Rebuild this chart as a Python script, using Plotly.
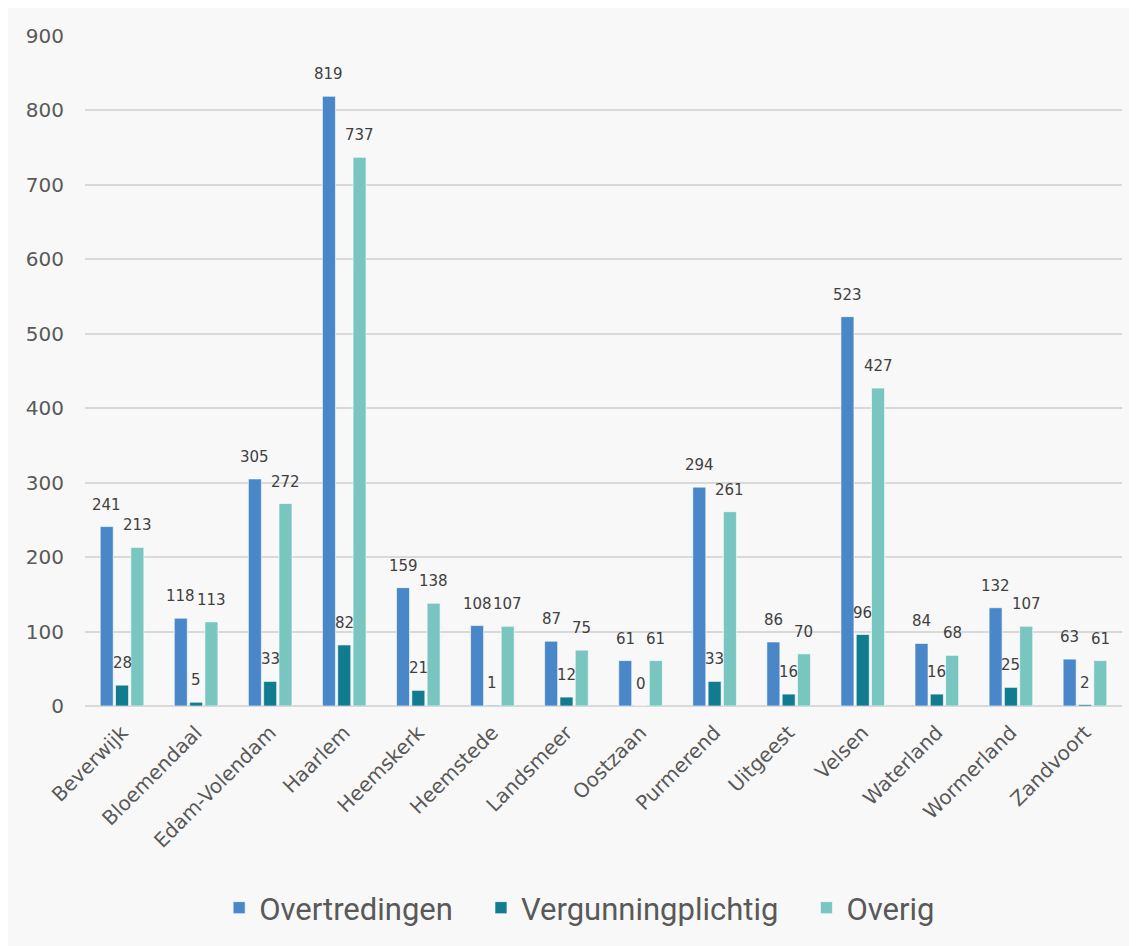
import plotly.graph_objects as go

categories = ["Beverwijk", "Bloemendaal", "Edam-Volendam", "Haarlem", "Heemskerk", "Heemstede",
              "Landsmeer", "Oostzaan", "Purmerend", "Uitgeest", "Velsen", "Waterland",
              "Wormerland", "Zandvoort"]
overtredingen = [241, 118, 305, 819, 159, 108, 87, 61, 294, 86, 523, 84, 132, 63]
vergunningplichtig = [28, 5, 33, 82, 21, 1, 12, 0, 33, 16, 96, 16, 25, 2]
overig = [213, 113, 272, 737, 138, 107, 75, 61, 261, 70, 427, 68, 107, 61]
y_ticks = [0, 100, 200, 300, 400, 500, 600, 700, 800, 900]

series = [
    ("Overtredingen", overtredingen, "#4A87C8"),
    ("Vergunningplichtig", vergunningplichtig, "#117C8F"),
    ("Overig", overig, "#78C6BF"),
]

FONT = "DejaVu Sans"
W, H = 1137, 946
ML, MR, MT, MB = 77, 23, 28, 248
BARGAP, GROUPGAP = 0.38, 0.15

# pixel width of one bar slot, derived from the layout settings
cat_px = (W - ML - MR) / len(categories)
slot_px = cat_px * (1 - BARGAP) / len(series)

fig = go.Figure()
annotations = []
for i, (name, vals, color) in enumerate(series):
    pad = "\u00a0\u00a0\u00a0" if i < len(series) - 1 else ""
    fig.add_trace(go.Bar(
        name=name + pad, x=categories, y=vals,
        marker=dict(color=color, line=dict(color="rgba(255,255,255,0.6)", width=1)),
        hoverinfo="x+y",
    ))
    for c, v in zip(categories, vals):
        annotations.append(dict(
            x=c, y=v, xref="x", yref="y", text=str(v), showarrow=False,
            xanchor="center", yanchor="bottom",
            xshift=(i - 1) * slot_px, yshift=11,
            font=dict(family=FONT, size=15, color="#404040"),
        ))

fig.update_layout(
    barmode="group", bargap=BARGAP, bargroupgap=GROUPGAP,
    width=W, height=H,
    margin=dict(l=ML, r=MR, t=MT, b=MB),
    paper_bgcolor="#F8F8F8", plot_bgcolor="#F8F8F8",
    font=dict(family=FONT, color="#595959"),
    annotations=annotations,
    yaxis=dict(range=[0, 900], tickvals=y_ticks, showgrid=True, gridcolor="#D9D9D9", gridwidth=1.5,
               zeroline=True, zerolinecolor="#D9D9D9", zerolinewidth=1.5,
               tickfont=dict(family=FONT, size=20, color="#595959"), ticks="", ticklabelstandoff=20,
               fixedrange=True),
    xaxis=dict(tickangle=-45, tickfont=dict(family=FONT, size=20, color="#595959"), ticks="",
               showline=False, ticklabelstandoff=10),
    legend=dict(orientation="h", x=0.477, xanchor="center", y=-0.3015, yanchor="middle",
                font=dict(family="Roboto", size=31, color="#595959"),
                bgcolor="rgba(0,0,0,0)", itemwidth=30, tracegroupgap=0),
)

fig.write_html("out.html")
